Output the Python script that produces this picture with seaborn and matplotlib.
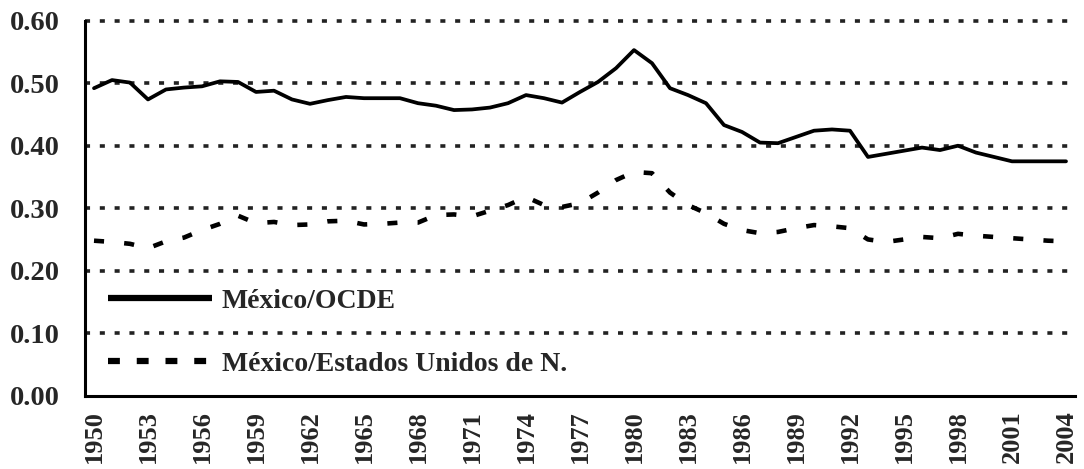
import numpy as np
import pandas as pd
import matplotlib
matplotlib.use('Agg')
import matplotlib.pyplot as plt
import seaborn as sns
from matplotlib.lines import Line2D

years = list(range(1950, 2005))

mex_ocde = [
    0.492, 0.505, 0.501, 0.474, 0.490, 0.493, 0.495, 0.503, 0.502, 0.486,
    0.488, 0.474, 0.467, 0.473, 0.478, 0.476, 0.476, 0.476, 0.468, 0.464,
    0.457, 0.458, 0.461, 0.468, 0.481, 0.476, 0.469, 0.486, 0.502, 0.524,
    0.553, 0.532, 0.492, 0.481, 0.468, 0.433, 0.422, 0.405, 0.404, 0.414,
    0.424, 0.426, 0.424, 0.382, 0.387, 0.392, 0.397, 0.393, 0.400, 0.389,
    0.382, 0.375, 0.375, 0.375, 0.375,
]

mex_eua = [
    0.248, 0.246, 0.243, 0.236, 0.247, 0.253, 0.265, 0.275, 0.288, 0.276,
    0.278, 0.273, 0.274, 0.279, 0.280, 0.274, 0.275, 0.277, 0.277, 0.289,
    0.290, 0.287, 0.296, 0.305, 0.318, 0.305, 0.302, 0.308, 0.325, 0.345,
    0.358, 0.356, 0.325, 0.305, 0.292, 0.275, 0.265, 0.260, 0.262, 0.268,
    0.273, 0.271, 0.268, 0.250, 0.246, 0.250, 0.254, 0.252, 0.259, 0.256,
    0.254, 0.252, 0.250, 0.248, 0.247,
]

labels = ['México/OCDE', 'México/Estados Unidos de N.']
year_ticks = list(range(1950, 2005, 3))
y_ticks = [0.0, 0.1, 0.2, 0.3, 0.4, 0.5, 0.6]

sns.set_style('white')
plt.rcParams['font.family'] = ['Liberation Serif', 'DejaVu Serif']
plt.rcParams['font.weight'] = 'bold'

df = pd.DataFrame({'year': years, 'ocde': mex_ocde, 'eua': mex_eua})

fig = plt.figure(figsize=(10.84, 4.69), dpi=100)
ax = fig.add_axes([85 / 1084, 1 - 395.7 / 469, 990 / 1084, 375 / 469])

sns.lineplot(data=df, x='year', y='ocde', ax=ax, color='black',
             linewidth=2.7, solid_joinstyle='round')
sns.lineplot(data=df, x='year', y='eua', ax=ax, color='black',
             linewidth=3.3, linestyle=(0, (2.2, 4.4)), dash_capstyle='butt')

ax.set_xlim(1949.5, 2004.5)
ax.set_ylim(0, 0.6)

# dotted horizontal grid
for v in y_ticks[1:]:
    ax.axhline(v, color='#222222', linewidth=2.6,
               linestyle=(0, (1.4, 2.7)), zorder=0, clip_on=False)

ax.set_yticks(y_ticks)
ax.set_yticklabels([f'{v:.2f}' for v in y_ticks], fontsize=20.5, fontweight='bold')
ax.set_xticks(year_ticks)
ax.set_xticklabels([str(y) for y in year_ticks], rotation=90, fontsize=19,
                   fontweight='bold')
ax.set_xticks(np.linspace(1949.5, 2004.5, 58), minor=True)
ax.tick_params(axis='x', which='major', length=0, pad=10.5)
ax.tick_params(axis='x', which='minor', length=8, width=2, color='black',
               direction='out')
ax.tick_params(axis='y', which='major', length=9, width=2, color='black',
               direction='out', pad=9)

for side in ['top', 'right']:
    ax.spines[side].set_visible(False)
for side in ['left', 'bottom']:
    ax.spines[side].set_color('black')
    ax.spines[side].set_linewidth(2.2)

ax.set_xlabel('')
ax.set_ylabel('')

handles = [
    Line2D([], [], color='black', linewidth=4.5, solid_capstyle='butt'),
    Line2D([], [], color='black', linewidth=4.5, linestyle=(0, (1.9, 2.7)),
           dash_capstyle='butt'),
]
leg = ax.legend(handles, labels, loc='upper left', bbox_to_anchor=(0.023, 0.286),
                frameon=False, fontsize=20, handlelength=3.75, handletextpad=0.36,
                labelspacing=1.34, borderpad=0, borderaxespad=0)
for t in leg.get_texts():
    t.set_fontweight('bold')

fig.savefig('out.png', dpi=100)
